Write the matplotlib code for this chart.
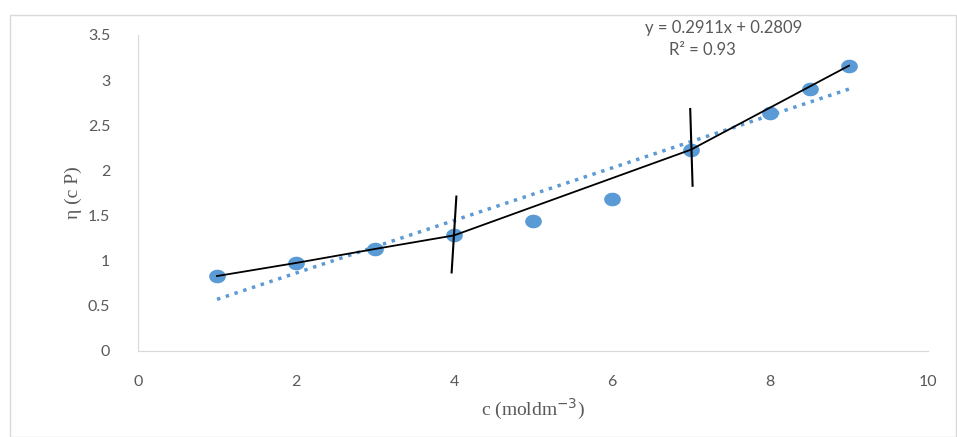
import matplotlib.pyplot as plt
import numpy as np
from matplotlib.path import Path

conc = [1, 2, 3, 4, 5, 6, 7, 8, 8.5, 9]
visc = [0.83, 0.975, 1.13, 1.28, 1.44, 1.68, 2.23, 2.64, 2.90, 3.16]

# hand-drawn broken line through selected points
seg_x = [1, 2, 3, 4, 7, 9]
seg_y = [0.83, 0.975, 1.13, 1.28, 2.23, 3.16]

# vertical break markers (x_top, x_bottom, y_top, y_bottom)
breaks = [(4.03, 3.97, 1.71, 0.87), (6.99, 7.02, 2.68, 1.83)]

slope, intercept = 0.2911, 0.2809
r2 = 0.93

gray = "#595959"
blue = "#5B9BD5"

# slightly flattened circle, like the stretched markers in the original
t = np.linspace(0, 2 * np.pi, 40)
oval = Path(np.column_stack([np.cos(t), 0.8 * np.sin(t)]), closed=True)

fig = plt.figure(figsize=(9.57, 4.37), dpi=100)
fig.patches.append(plt.Rectangle((10 / 957, 0), 1 - 10 / 957 - 0.001, 1 - 15 / 437,
                                 transform=fig.transFigure, fill=False,
                                 edgecolor="#d9d9d9", lw=1))
ax = fig.add_axes([0.1442, 0.1968, 0.8255, 0.7232])

ax.plot(conc, visc, ls="none", marker=oval, color=blue, ms=11, zorder=3)
tx = np.array([conc[0], conc[-1]])
ax.plot(tx, slope * tx + intercept, ":", color=blue, lw=2.5, zorder=2)
ax.plot(seg_x, seg_y, "-", color="black", lw=1.3, zorder=4)
for xt, xb, yt, yb in breaks:
    ax.plot([xt, xb], [yt, yb], "-", color="black", lw=1.5, zorder=4)

ax.set_xlim(0, 10)
ax.set_ylim(0, 3.5)
ax.set_xticks(range(0, 11, 2))
ax.set_yticks(np.arange(0, 3.51, 0.5))
ax.set_yticklabels(["0", "0.5", "1", "1.5", "2", "2.5", "3", "3.5"])
for s in ["top", "right"]:
    ax.spines[s].set_visible(False)
for s in ["left", "bottom"]:
    ax.spines[s].set_color("#d9d9d9")
ax.tick_params(length=0, labelsize=11.5, labelcolor=gray)
ax.tick_params(axis="y", pad=20)
ax.tick_params(axis="x", pad=17)
for lab in ax.get_xticklabels() + ax.get_yticklabels():
    lab.set_fontfamily("Lato")

ax.set_xlabel("c (moldm$^{-3}$)", fontsize=14, color=gray,
              fontfamily="Liberation Serif", labelpad=6)
ax.set_ylabel("η (c P)", fontsize=14, color=gray,
              fontfamily="Liberation Serif", labelpad=4)

fig.text(724 / 957, 1 - 28 / 437, f"y = {slope}x + {intercept}", ha="center",
         va="center", fontsize=12, color=gray, fontfamily="Lato")
fig.text(702 / 957, 1 - 50 / 437, f"R² = {r2}", ha="center", va="center",
         fontsize=12, color=gray, fontfamily="Lato")

fig.savefig("out.png", dpi=100)
